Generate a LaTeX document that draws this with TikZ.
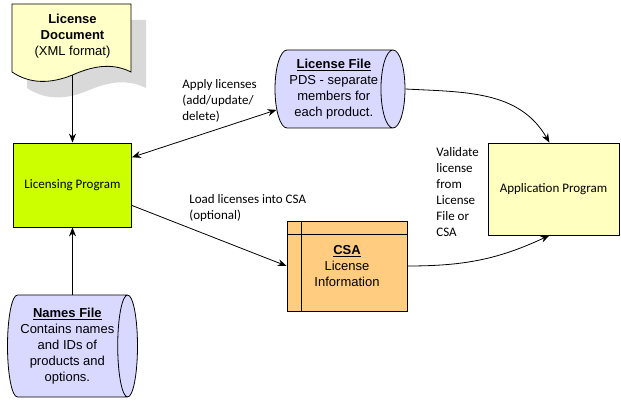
\documentclass[tikz,border=0pt]{standalone}
\usepackage{fontspec}
\setmainfont{Liberation Sans}
\newfontfamily\calfont{Carlito}
\usetikzlibrary{shapes.geometric,arrows.meta}
\definecolor{docyellow}{RGB}{255,255,200}
\definecolor{shadowgray}{RGB}{217,217,217}
\definecolor{filelilac}{RGB}{217,217,255}
\definecolor{csaorange}{RGB}{255,204,128}
\definecolor{progyellow}{RGB}{255,255,192}
\definecolor{limegreen}{RGB}{204,255,0}

\begin{document}
\begin{tikzpicture}[> = {Stealth[length=9pt,width=7pt]}, % arrow head style
	x=1pt,y=-1pt, % pixel grid, y goes down
	line width=.8pt,
	every node/.style={font=\fontsize{13}{16}\selectfont,align=center,inner sep=0pt},
	file/.style={cylinder,draw,fill=filelilac,anchor=shape center,minimum height=130pt},
	prog/.style={rectangle,draw,font=\calfont\fontsize{13}{16}\selectfont},
	lbl/.style={align=left,anchor=west,font=\calfont\fontsize{13}{16}\selectfont}]
	\useasboundingbox (0,0) rectangle (621,406);
	% license document with its shadow
	\fill[shadowgray,shift={(15,16)}] (12,4) -- (131,4) -- (131,72) .. controls (115,64) and (97,64) .. (72,75) .. controls (50,84) and (30,84) .. (12,72) -- cycle;
	\draw[fill=docyellow] (12,4) -- (131,4) -- (131,72) .. controls (115,64) and (97,64) .. (72.5,75) .. controls (50,84) and (30,84) .. (12,72) -- cycle;
	\node (doc) at (72.5,36) [minimum height=78pt] {\textbf{License}\\\textbf{Document}\\(XML format)};
	\node[prog,fill=limegreen,minimum width=118pt,minimum height=84pt] (lp) at (72.5,185) {Licensing Program};
	\node[prog,fill=progyellow,minimum width=131pt,minimum height=92pt] (app) at (553.5,189) {Application Program};
	\node[file,aspect=.4,minimum width=78pt] (lf) at (340,89) {\underline{\textbf{License File}}\\PDS - separate\\members for\\each product.};
	\node[file,aspect=.26,minimum width=102pt] (nf) at (72.5,346) {\underline{\textbf{Names File}}\\Contains names\\and IDs of\\products and\\options.};
	\node[rectangle,draw,fill=csaorange,minimum width=120pt,minimum height=90pt] (csa) at (347,266) {\underline{\textbf{CSA}}\\License\\Information};
	\draw ([xshift=15pt]csa.north west) -- ([xshift=15pt]csa.south west);
	\draw ([yshift=-14pt]csa.north west) -- ([yshift=-14pt]csa.north east);
	% labels
	\node[lbl] (apply) at (182,101) {Apply licenses\\(add/update/\\delete)};
	\node[lbl] (load) at (189,208) {Load licenses into CSA\\(optional)};
	\node[lbl] (valid) at (436,192) {Validate\\license\\from\\License\\File or\\CSA};
	% connectors
	\draw[->] (doc.south) -- (lp.north);
	\draw[->] (nf.shape center |- nf.north) -- (lp.south);
	\draw[<->] (lp.25) -- (lf.200);
	\draw[->] (lp.-19) -- (csa.west);
	\draw[->] (lf.east) to[out=-3,in=120] (app.95);
	\draw[->] (csa.east) to[out=0,in=205] (app.265);
\end{tikzpicture}
\end{document}
